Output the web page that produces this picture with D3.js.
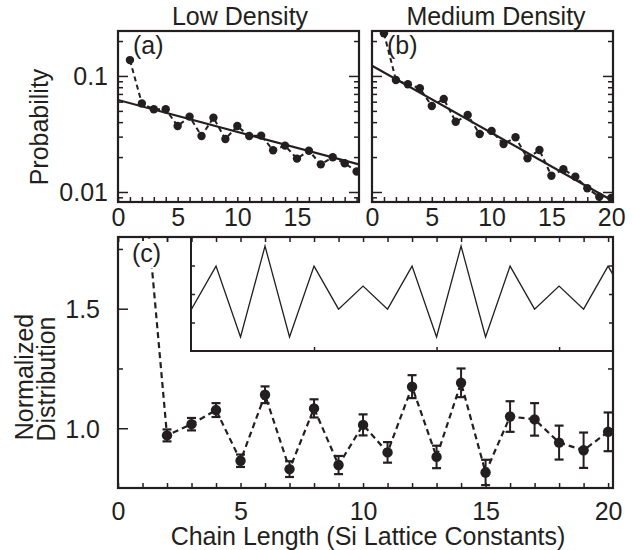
<!DOCTYPE html>
<html><head><meta charset="utf-8">
<script src="https://cdn.jsdelivr.net/npm/d3@7"></script>
<style>
body{margin:0;background:#fff}
svg{display:block}
text{font-family:"Liberation Sans",Arial,Helvetica,sans-serif;fill:#231f20}
</style>
</head><body>
<svg id="chart" width="632" height="550"></svg>
<script>
// ---------- data ----------
const chainLen = [1,2,3,4,5,6,7,8,9,10,11,12,13,14,15,16,17,18,19,20];
const probLow = [0.137,0.058,0.0516,0.0516,0.037,0.0446,0.0304,0.0437,0.0286,0.037,
                 0.0304,0.0306,0.0229,0.0251,0.0194,0.0227,0.0173,0.0199,0.0177,0.0150];
const probMed = [0.233,0.0924,0.0848,0.0783,0.0551,0.0634,0.0403,0.0461,0.0316,0.0336,
                 0.0259,0.0296,0.0195,0.0230,0.0138,0.0157,0.01355,0.01076,0.0091,0.0089];
const fitLowX = [0, 20.2], fitLowP = [0.0621, 0.0173];
const fitMedX = [0, 20], fitMedP = [0.1227, 0.00853];

const normX   = [1,2,3,4,5,6,7,8,9,10,11,12,13,14,15,16,17,18,19,20];
const normVal = [2.11,0.97,1.017,1.076,0.864,1.14,0.829,1.083,0.846,1.014,
                 0.899,1.174,0.88,1.19,0.815,1.049,1.037,0.94,0.908,0.985];
const normErr = [null,0.025,0.026,0.029,0.026,0.035,0.033,0.038,0.038,0.044,
                 0.043,0.048,0.047,0.06,0.053,0.064,0.068,0.071,0.074,0.081];

const insetX   = [3,4,5,6,7,8,9,10,11,12,13,14,15,16,17,18,19,20,21];
const insetVal = [1.47,2.98,0.49,3.68,0.49,2.98,1.47,2.28,1.47,2.98,0.49,3.68,0.49,2.98,1.47,2.28,1.47,2.98,1.47];

const titles = ["Low Density", "Medium Density"];
const panelLabels = ["(a)", "(b)", "(c)"];
const logMajor = [0.01, 0.1];
const logMinor = [0.009,0.02,0.03,0.04,0.05,0.06,0.07,0.08,0.09,0.2];
const intTicks = [0,1,2,3,4,5,6,7,8,9,10,11,12,13,14,15,16,17,18,19,20];
const normTicks = [1.0,1.25,1.5,1.75];
const normLabelTicks = [1.0,1.5];
const insetYTicks = [1,2,3];
const insetXTicks = [8,13,18];

// ---------- setup ----------
const INK = "#231f20";
const FS = 25;
const svg = d3.select("#chart");
const defs = svg.append("defs");

function frame(g, x0, y0, x1, y1, sw) {
  g.append("rect").attr("x", x0).attr("y", y0).attr("width", x1 - x0).attr("height", y1 - y0)
    .attr("fill", "none").attr("stroke", INK).attr("stroke-width", sw || 2);
}
function cleanAxis(g) {
  g.select(".domain").remove();
  g.selectAll(".tick line").attr("stroke", INK).attr("stroke-width", 1.5);
  g.selectAll(".tick text").attr("fill", INK).style("font-size", FS + "px")
    .style("font-family", '"Liberation Sans",Arial,sans-serif');
}

// ---------- top panels ----------
const topY0 = 31, topY1 = 202;
const panels = [
  {x0: 118, x1: 359, dom: [0, 20.2], data: probLow, fx: fitLowX, fp: fitLowP, labels: [0,5,10,15], title: titles[0], tx: 240, lab: panelLabels[0], showY: true},
  {x0: 372, x1: 613, dom: [0, 20.15], data: probMed, fx: fitMedX, fp: fitMedP, labels: [0,5,10,15,20], title: titles[1], tx: 496, lab: panelLabels[1], showY: false}
];
const yLog = d3.scaleLog().domain([0.0082, 0.244]).range([topY1, topY0]);

panels.forEach((p, i) => {
  const x = d3.scaleLinear().domain(p.dom).range([p.x0, p.x1]);
  const g = svg.append("g");
  const cid = "clipTop" + i;
  defs.append("clipPath").attr("id", cid).append("rect")
    .attr("x", p.x0).attr("y", topY0).attr("width", p.x1 - p.x0).attr("height", topY1 - topY0);
  const pg = g.append("g").attr("clip-path", `url(#${cid})`);

  // fit line
  const fit = p.fx.map((xv, k) => [xv, p.fp[k]]);
  pg.append("path").datum(fit)
    .attr("d", d3.line().x(d => x(d[0])).y(d => yLog(d[1])))
    .attr("stroke", INK).attr("stroke-width", 2.2).attr("fill", "none");
  // dashed connecting line
  const pts = chainLen.map((c, k) => [c, p.data[k]]);
  pg.append("path").datum(pts)
    .attr("d", d3.line().x(d => x(d[0])).y(d => yLog(d[1])))
    .attr("stroke", INK).attr("stroke-width", 2).attr("stroke-dasharray", "5,3.5").attr("fill", "none");
  pg.selectAll("circle").data(pts).join("circle")
    .attr("cx", d => x(d[0])).attr("cy", d => yLog(d[1])).attr("r", 4.2).attr("fill", INK);

  // bottom axis
  const ax = g.append("g").attr("transform", `translate(0,${topY1})`)
    .call(d3.axisBottom(x).tickValues(intTicks).tickSize(-5).tickPadding(6)
      .tickFormat(d => p.labels.includes(d) ? d : ""));
  cleanAxis(ax);
  // left axis
  const ay = g.append("g").attr("transform", `translate(${p.x0},0)`)
    .call(d3.axisLeft(yLog).tickValues(logMajor.concat(logMinor)).tickSize(-5).tickPadding(10)
      .tickFormat(d => (p.showY && logMajor.includes(d)) ? d3.format("")(d) : ""));
  cleanAxis(ay);
  ay.selectAll(".tick line").attr("x2", d => logMajor.includes(d) ? 10 : 5);
  ay.selectAll(".tick text").attr("dy", "0.36em");
  // right axis
  const ar = g.append("g").attr("transform", `translate(${p.x1},0)`)
    .call(d3.axisRight(yLog).tickValues(logMajor.concat(logMinor)).tickSize(-5).tickFormat(""));
  cleanAxis(ar);
  ar.selectAll(".tick line").attr("x2", d => logMajor.includes(d) ? -10 : -5);

  frame(g, p.x0, topY0, p.x1, topY1, 2.2);

  g.append("text").attr("x", p.tx).attr("y", 25).attr("text-anchor", "middle")
    .style("font-size", FS + "px").text(p.title);
  g.append("text").attr("x", p.x0 + 15).attr("y", 54)
    .style("font-size", FS + "px").text(p.lab);
});

svg.append("text").attr("transform", "translate(48,127) rotate(-90)")
  .attr("text-anchor", "middle").style("font-size", FS + "px").text("Probability");

// ---------- bottom panel ----------
const cX0 = 118, cX1 = 613, cY0 = 237, cY1 = 488;
const xC = d3.scaleLinear().domain([0, 20.2]).range([cX0, cX1]);
const yC = d3.scaleLinear().domain([0.75, 1.8]).range([cY1, cY0]);
const gc = svg.append("g");
defs.append("clipPath").attr("id", "clipC").append("rect")
  .attr("x", cX0).attr("y", cY0).attr("width", cX1 - cX0).attr("height", cY1 - cY0);
const cg = gc.append("g").attr("clip-path", "url(#clipC)");

const cpts = normX.map((xv, k) => ({x: xv, v: normVal[k], e: normErr[k]}));
cg.append("path").datum(cpts)
  .attr("d", d3.line().x(d => xC(d.x)).y(d => yC(d.v)))
  .attr("stroke", INK).attr("stroke-width", 2.2).attr("stroke-dasharray", "6,4").attr("fill", "none");

const eb = cpts.filter(d => d.e != null);
cg.selectAll("line.err").data(eb).join("line").attr("class", "err")
  .attr("x1", d => xC(d.x)).attr("x2", d => xC(d.x))
  .attr("y1", d => yC(d.v - d.e)).attr("y2", d => yC(d.v + d.e))
  .attr("stroke", INK).attr("stroke-width", 2);
[1, -1].forEach(s => {
  cg.selectAll("line.cap" + (s > 0 ? "u" : "d")).data(eb).join("line").attr("class", "cap" + (s > 0 ? "u" : "d"))
    .attr("x1", d => xC(d.x) - 4.5).attr("x2", d => xC(d.x) + 4.5)
    .attr("y1", d => yC(d.v + s * d.e)).attr("y2", d => yC(d.v + s * d.e))
    .attr("stroke", INK).attr("stroke-width", 2.2);
});
cg.selectAll("circle").data(eb).join("circle")
  .attr("cx", d => xC(d.x)).attr("cy", d => yC(d.v)).attr("r", 5.2).attr("fill", INK);

// axes (c)
const cxAx = gc.append("g").attr("transform", `translate(0,${cY1})`)
  .call(d3.axisBottom(xC).tickValues(intTicks).tickSize(-5).tickPadding(14)
    .tickFormat(d => d % 5 === 0 ? d : ""));
cleanAxis(cxAx);
const cxTop = gc.append("g").attr("transform", `translate(0,${cY0})`)
  .call(d3.axisTop(xC).tickValues(intTicks).tickSize(-5).tickFormat(""));
cleanAxis(cxTop);
const cyAx = gc.append("g").attr("transform", `translate(${cX0},0)`)
  .call(d3.axisLeft(yC).tickValues(normTicks).tickSize(-5).tickPadding(18)
    .tickFormat(d => normLabelTicks.includes(d) ? d3.format(".1f")(d) : ""));
cleanAxis(cyAx);
cyAx.selectAll(".tick line").attr("x2", d => normLabelTicks.includes(d) ? 10 : 5);
cyAx.selectAll(".tick text").attr("dy", "0.36em");
const cyR = gc.append("g").attr("transform", `translate(${cX1},0)`)
  .call(d3.axisRight(yC).tickValues(normTicks).tickSize(-5).tickFormat(""));
cleanAxis(cyR);

// inset
const iX0 = 191, iY0 = cY0, iY1 = 351;
const yI = d3.scaleLinear().domain([0, 4]).range([iY1, iY0]);
const ig = gc.append("g");
ig.append("rect").attr("x", iX0).attr("y", iY0).attr("width", cX1 - iX0).attr("height", iY1 - iY0).attr("fill", "#fff");
defs.append("clipPath").attr("id", "clipI").append("rect")
  .attr("x", iX0).attr("y", iY0).attr("width", cX1 - iX0).attr("height", iY1 - iY0);
ig.append("g").attr("clip-path", "url(#clipI)").append("path")
  .datum(insetX.map((xv, k) => [xv, insetVal[k]]))
  .attr("d", d3.line().x(d => xC(d[0])).y(d => yI(d[1])))
  .attr("stroke", INK).attr("stroke-width", 1.3).attr("fill", "none");
const iyL = ig.append("g").attr("transform", `translate(${iX0},0)`)
  .call(d3.axisLeft(yI).tickValues(insetYTicks).tickSize(-4).tickFormat(""));
cleanAxis(iyL);
const iyR = ig.append("g").attr("transform", `translate(${cX1},0)`)
  .call(d3.axisRight(yI).tickValues(insetYTicks).tickSize(-4).tickFormat(""));
cleanAxis(iyR);
const ixB = ig.append("g").attr("transform", `translate(0,${iY1})`)
  .call(d3.axisBottom(xC).tickValues(insetXTicks).tickSize(-4).tickFormat(""));
cleanAxis(ixB);
ig.append("rect").attr("x", iX0).attr("y", iY0).attr("width", cX1 - iX0).attr("height", iY1 - iY0)
  .attr("fill", "none").attr("stroke", INK).attr("stroke-width", 2);

// re-draw top ticks over inset
const cxTop2 = gc.append("g").attr("transform", `translate(0,${cY0})`)
  .call(d3.axisTop(xC).tickValues(intTicks).tickSize(-5).tickFormat(""));
cleanAxis(cxTop2);

frame(gc, cX0, cY0, cX1, cY1, 2.2);

// (c) label with white backing
gc.append("rect").attr("x", 130).attr("y", 241).attr("width", 32).attr("height", 27).attr("fill", "#fff");
gc.append("text").attr("x", 132).attr("y", 262).style("font-size", FS + "px").text(panelLabels[2]);

// axis titles
svg.append("text").attr("x", 368).attr("y", 545).attr("text-anchor", "middle")
  .style("font-size", FS + "px").text("Chain Length (Si Lattice Constants)");
svg.append("text").attr("transform", "translate(33,377) rotate(-90)")
  .attr("text-anchor", "middle").style("font-size", FS + "px").text("Normalized");
svg.append("text").attr("transform", "translate(55,379) rotate(-90)")
  .attr("text-anchor", "middle").style("font-size", FS + "px").text("Distribution");
</script>
</body></html>
